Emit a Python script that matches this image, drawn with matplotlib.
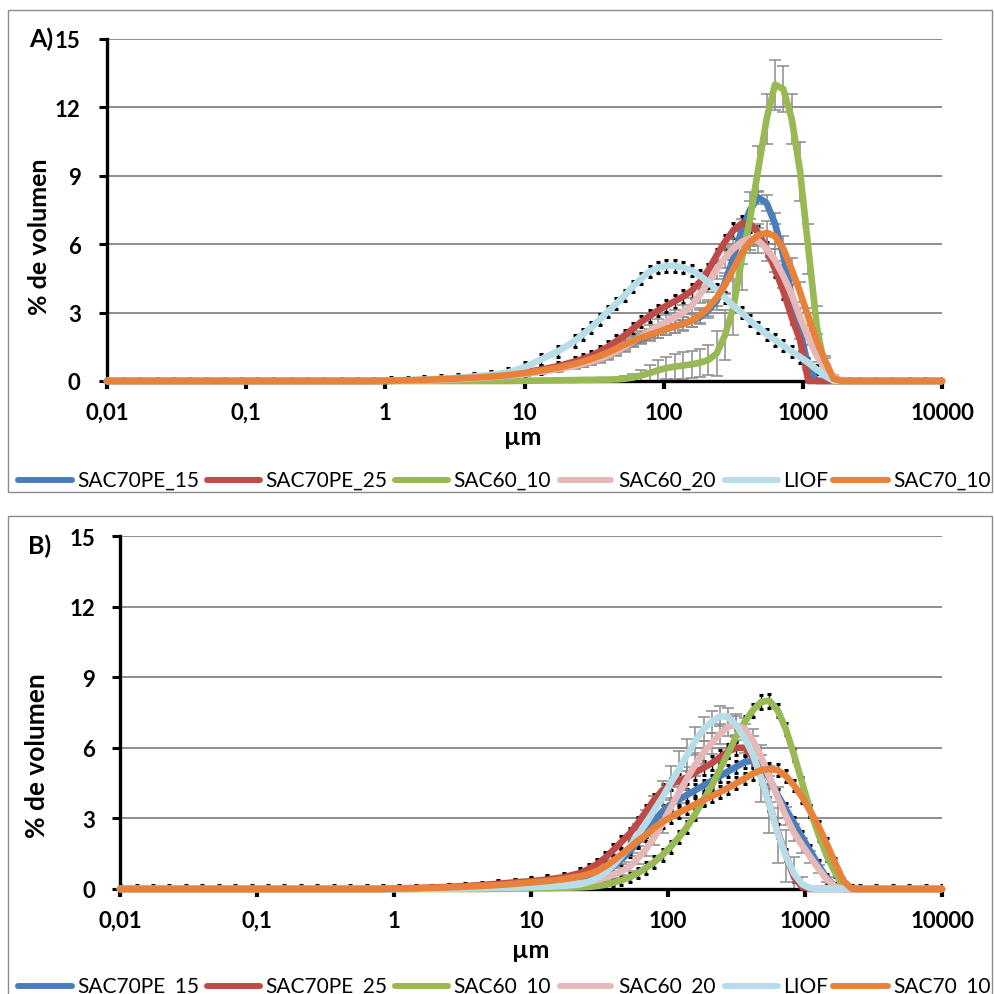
import numpy as np
import matplotlib
matplotlib.use("Agg")
import matplotlib.pyplot as plt
from matplotlib.lines import Line2D
from matplotlib.patches import Rectangle
from matplotlib.ticker import FixedLocator, FixedFormatter, NullLocator

plt.rcParams["font.family"] = ["Lato", "DejaVu Sans"]

W, H = 994, 995

# particle size classes (µm)
size_um = [0.010, 0.0132, 0.0174, 0.0229, 0.0302, 0.0398, 0.0525, 0.0692, 0.0912,
           0.120, 0.158, 0.209, 0.275, 0.363, 0.479, 0.631, 0.832,
           1.096, 1.445, 1.905, 2.512, 3.311, 4.365, 5.754, 7.586,
           10.00, 13.18, 17.38,
           22.91, 26.30, 30.20, 34.67, 39.81, 45.71, 52.48, 60.26, 69.18, 79.43,
           91.20, 104.7, 120.2, 138.0, 158.5, 182.0, 208.9, 239.9, 275.4, 316.2,
           363.1, 416.9, 478.6, 549.5, 631.0, 724.4, 831.8, 955.0, 1096, 1259,
           1445, 1660, 1905, 2188, 2512,
           3311, 4365, 5754, 7586, 10000]

x_ticks = [0.01, 0.1, 1, 10, 100, 1000, 10000]
x_tick_labels = ["0,01", "0,1", "1", "10", "100", "1000", "10000"]
y_ticks = [0, 3, 6, 9, 12, 15]

series_names = ["SAC70PE_15", "SAC70PE_25", "SAC60_10", "SAC60_20", "LIOF", "SAC70_10"]
series_colors = ["#4A7EBB", "#BE4B48", "#98B954", "#E6B9B8", "#B7DEE8", "#E8823A"]

# ---------------- panel A: % volume ----------------
a_sac70pe_15 = [0, 0, 0, 0, 0, 0, 0, 0, 0, 0, 0, 0, 0, 0, 0, 0, 0,
                0.01, 0.02, 0.04, 0.06, 0.09, 0.13, 0.18, 0.25, 0.33, 0.43, 0.54,
                0.7, 0.78, 0.88, 1.0, 1.15, 1.32, 1.5, 1.68, 1.85, 2.0,
                2.15, 2.28, 2.4, 2.52, 2.65, 2.8, 3.1, 3.5, 4.3, 5.4,
                6.6, 7.5, 8.05, 7.8, 6.9, 5.5, 3.7, 2.2, 0.6, 0,
                0, 0, 0, 0, 0,
                0, 0, 0, 0, 0]
a_sac70pe_25 = [0, 0, 0, 0, 0, 0, 0, 0, 0, 0, 0, 0, 0, 0, 0, 0, 0,
                0.01, 0.02, 0.03, 0.06, 0.09, 0.14, 0.2, 0.28, 0.38, 0.5, 0.65,
                0.85, 0.97, 1.1, 1.3, 1.5, 1.75, 2.0, 2.3, 2.6, 2.85,
                3.1, 3.3, 3.5, 3.7, 3.95, 4.35, 4.85, 5.5, 6.1, 6.6,
                6.9, 6.9, 6.5, 5.8, 4.9, 3.95, 2.8, 1.8, 0, 0,
                0, 0, 0, 0, 0,
                0, 0, 0, 0, 0]
a_sac60_10 = [0, 0, 0, 0, 0, 0, 0, 0, 0, 0, 0, 0, 0, 0, 0, 0, 0,
              0, 0, 0, 0, 0, 0, 0, 0, 0.01, 0.02, 0.03,
              0.04, 0.05, 0.05, 0.06, 0.06, 0.07, 0.1, 0.15, 0.25, 0.35,
              0.47, 0.57, 0.63, 0.68, 0.73, 0.8, 0.92, 1.2, 2.0, 3.2,
              5.3, 7.1, 9.3, 11.5, 13.0, 12.8, 11.5, 9.2, 5.8, 2.4,
              0.5, 0, 0, 0, 0,
              0, 0, 0, 0, 0]
a_sac60_20 = [0, 0, 0, 0, 0, 0, 0, 0, 0, 0, 0, 0, 0, 0, 0, 0, 0,
              0.01, 0.02, 0.03, 0.05, 0.08, 0.12, 0.17, 0.23, 0.31, 0.41, 0.52,
              0.66, 0.75, 0.85, 0.97, 1.12, 1.3, 1.5, 1.72, 1.95, 2.2,
              2.4, 2.6, 2.8, 3.0, 3.3, 3.8, 4.3, 4.9, 5.4, 5.8,
              6.1, 6.25, 6.15, 5.8, 5.3, 4.6, 3.8, 2.8, 1.9, 1.1,
              0.55, 0.2, 0, 0, 0,
              0, 0, 0, 0, 0]
a_liof = [0, 0, 0, 0, 0, 0, 0, 0, 0, 0, 0, 0, 0, 0, 0, 0, 0,
          0.02, 0.04, 0.06, 0.1, 0.14, 0.2, 0.27, 0.38, 0.6, 0.95, 1.3,
          1.75, 2.05, 2.35, 2.7, 3.05, 3.4, 3.75, 4.15, 4.5, 4.8,
          4.97, 5.05, 5.05, 4.98, 4.85, 4.62, 4.35, 4.0, 3.65, 3.3,
          3.0, 2.65, 2.35, 2.05, 1.8, 1.55, 1.3, 1.05, 0.8, 0.5,
          0.22, 0.02, 0, 0, 0,
          0, 0, 0, 0, 0]
a_sac70_10 = [0, 0, 0, 0, 0, 0, 0, 0, 0, 0, 0, 0, 0, 0, 0, 0, 0,
              0.02, 0.03, 0.05, 0.08, 0.11, 0.15, 0.19, 0.26, 0.35, 0.46, 0.58,
              0.75, 0.85, 0.97, 1.1, 1.25, 1.42, 1.6, 1.75, 1.9, 2.03,
              2.15, 2.28, 2.4, 2.5, 2.65, 2.88, 3.2, 3.65, 4.2, 4.9,
              5.6, 6.1, 6.4, 6.5, 6.35, 5.8, 4.9, 3.9, 2.8, 1.75,
              0.9, 0.1, 0, 0, 0,
              0, 0, 0, 0, 0]

# standard deviations, panel A
a_sac70pe_15_sd = [0, 0, 0, 0, 0, 0, 0, 0, 0, 0, 0, 0, 0, 0, 0, 0, 0,
                   0.01, 0.01, 0.02, 0.02, 0.03, 0.04, 0.05, 0.06, 0.08, 0.1, 0.12,
                   0.14, 0.15, 0.16, 0.17, 0.18, 0.19, 0.2, 0.21, 0.22, 0.23,
                   0.25, 0.26, 0.28, 0.29, 0.3, 0.32, 0.35, 0.4, 0.45, 0.5,
                   0.5, 0.4, 0.3, 0.35, 0.45, 0.5, 0.5, 0.35, 0.1, 0,
                   0, 0, 0, 0, 0,
                   0, 0, 0, 0, 0]
a_sac70pe_25_sd = [0, 0, 0, 0, 0, 0, 0, 0, 0, 0, 0, 0, 0, 0, 0, 0, 0,
                   0.1, 0.1, 0.1, 0.12, 0.13, 0.14, 0.15, 0.16, 0.18, 0.2, 0.2,
                   0.22, 0.22, 0.22, 0.24, 0.25, 0.25, 0.25, 0.25, 0.25, 0.25,
                   0.25, 0.26, 0.28, 0.28, 0.3, 0.3, 0.3, 0.3, 0.32, 0.33,
                   0.35, 0.35, 0.3, 0.3, 0.35, 0.35, 0.3, 0.25, 0.1, 0,
                   0, 0, 0, 0, 0,
                   0, 0, 0, 0, 0]
a_sac60_10_sd = [0, 0, 0, 0, 0, 0, 0, 0, 0, 0, 0, 0, 0, 0, 0, 0, 0,
                 0, 0, 0, 0, 0, 0, 0, 0, 0.02, 0.03, 0.04,
                 0.05, 0.05, 0.06, 0.06, 0.07, 0.08, 0.1, 0.15, 0.25, 0.35,
                 0.45, 0.5, 0.55, 0.58, 0.6, 0.62, 0.65, 1.0, 1.1, 1.2,
                 1.3, 1.2, 1.0, 1.1, 1.1, 1.0, 1.1, 1.3, 1.1, 0.9,
                 0.5, 0, 0, 0, 0,
                 0, 0, 0, 0, 0]
a_sac60_20_sd = [0, 0, 0, 0, 0, 0, 0, 0, 0, 0, 0, 0, 0, 0, 0, 0, 0,
                 0.01, 0.01, 0.02, 0.02, 0.03, 0.04, 0.05, 0.06, 0.08, 0.1, 0.12,
                 0.14, 0.15, 0.16, 0.17, 0.18, 0.2, 0.22, 0.24, 0.25, 0.27,
                 0.3, 0.3, 0.3, 0.32, 0.35, 0.38, 0.4, 0.42, 0.45, 0.48,
                 0.5, 0.52, 0.55, 0.55, 0.5, 0.5, 0.45, 0.4, 0.3, 0.25,
                 0.15, 0.05, 0, 0, 0,
                 0, 0, 0, 0, 0]
a_liof_sd = [0.15, 0.15, 0.15, 0.15, 0.15, 0.15, 0.15, 0.15, 0.15, 0.15, 0.15, 0.15,
             0.15, 0.15, 0.15, 0.15, 0.15,
             0.15, 0.15, 0.15, 0.15, 0.16, 0.17, 0.18, 0.2, 0.22, 0.24, 0.25,
             0.25, 0.25, 0.25, 0.25, 0.25, 0.25, 0.25, 0.25, 0.25, 0.25,
             0.25, 0.25, 0.25, 0.25, 0.25, 0.25, 0.25, 0.25, 0.25, 0.25,
             0.25, 0.25, 0.25, 0.25, 0.25, 0.25, 0.25, 0.25, 0.22, 0.2,
             0.18, 0.15, 0.15, 0.15, 0.15,
             0.15, 0.15, 0.15, 0.15, 0.15]
a_sac70_10_sd = [0, 0, 0, 0, 0, 0, 0, 0, 0, 0, 0, 0, 0, 0, 0, 0, 0,
                 0.01, 0.01, 0.02, 0.02, 0.03, 0.04, 0.05, 0.06, 0.08, 0.1, 0.12,
                 0.14, 0.15, 0.16, 0.17, 0.18, 0.19, 0.2, 0.21, 0.22, 0.23,
                 0.25, 0.26, 0.28, 0.29, 0.3, 0.32, 0.35, 0.38, 0.4, 0.42,
                 0.45, 0.48, 0.5, 0.5, 0.55, 0.55, 0.5, 0.45, 0.4, 0.3,
                 0.2, 0.05, 0, 0, 0,
                 0, 0, 0, 0, 0]

# ---------------- panel B: % volume ----------------
b_sac70pe_15 = [0, 0, 0, 0, 0, 0, 0, 0, 0, 0, 0, 0, 0, 0, 0, 0, 0,
                0.01, 0.02, 0.03, 0.05, 0.07, 0.1, 0.13, 0.17, 0.22, 0.27, 0.32,
                0.4, 0.47, 0.55, 0.72, 0.95, 1.25, 1.6, 2.0, 2.45, 2.9,
                3.3, 3.6, 3.8, 4.0, 4.2, 4.4, 4.6, 4.8, 5.0, 5.2,
                5.4, 5.45, 5.3, 4.7, 4.0, 3.4, 2.8, 2.2, 1.6, 1.0,
                0.45, 0.1, 0, 0, 0,
                0, 0, 0, 0, 0]
b_sac70pe_25 = [0, 0, 0, 0, 0, 0, 0, 0, 0, 0, 0, 0, 0, 0, 0, 0, 0,
                0.03, 0.04, 0.06, 0.09, 0.12, 0.17, 0.22, 0.28, 0.33, 0.4, 0.5,
                0.68, 0.85, 1.05, 1.32, 1.65, 2.0, 2.35, 2.8, 3.3, 3.8,
                4.2, 4.45, 4.6, 4.75, 4.95, 5.15, 5.35, 5.6, 5.85, 6.0,
                6.0, 5.6, 4.75, 3.6, 2.45, 1.45, 0.5, 0.08, 0, 0,
                0, 0, 0, 0, 0,
                0, 0, 0, 0, 0]
b_sac60_10 = [0, 0, 0, 0, 0, 0, 0, 0, 0, 0, 0, 0, 0, 0, 0, 0, 0,
              0, 0, 0, 0, 0, 0, 0.01, 0.02, 0.03, 0.04, 0.05,
              0.07, 0.09, 0.12, 0.18, 0.27, 0.37, 0.5, 0.68, 0.9, 1.15,
              1.45, 1.8, 2.2, 2.65, 3.2, 3.8, 4.4, 5.1, 5.8, 6.5,
              7.1, 7.6, 7.95, 8.0, 7.6, 6.8, 5.7, 4.5, 3.3, 2.3,
              1.4, 0.7, 0.05, 0, 0,
              0, 0, 0, 0, 0]
b_sac60_20 = [0, 0, 0, 0, 0, 0, 0, 0, 0, 0, 0, 0, 0, 0, 0, 0, 0,
              0, 0.01, 0.02, 0.03, 0.04, 0.05, 0.06, 0.08, 0.1, 0.13, 0.17,
              0.25, 0.3, 0.38, 0.48, 0.6, 0.75, 0.95, 1.3, 1.7, 2.2,
              2.8, 3.45, 4.1, 4.7, 5.3, 5.8, 6.2, 6.6, 6.9, 6.95,
              6.8, 6.3, 5.6, 4.75, 3.9, 3.1, 2.4, 1.85, 1.35, 0.85,
              0.4, 0.1, 0, 0, 0,
              0, 0, 0, 0, 0]
b_liof = [0, 0, 0, 0, 0, 0, 0, 0, 0, 0, 0, 0, 0, 0, 0, 0, 0,
          0, 0.01, 0.01, 0.02, 0.03, 0.04, 0.05, 0.06, 0.08, 0.1, 0.13,
          0.2, 0.3, 0.45, 0.68, 1.0, 1.4, 1.8, 2.3, 2.8, 3.35,
          3.9, 4.5, 5.1, 5.7, 6.3, 6.8, 7.1, 7.35, 7.3, 6.95,
          6.4, 5.7, 4.7, 3.6, 2.4, 1.4, 0.65, 0.2, 0.03, 0,
          0, 0, 0, 0, 0,
          0, 0, 0, 0, 0]
b_sac70_10 = [0, 0, 0, 0, 0, 0, 0, 0, 0, 0, 0, 0, 0, 0, 0, 0, 0,
              0.02, 0.03, 0.05, 0.07, 0.1, 0.13, 0.17, 0.22, 0.28, 0.34, 0.42,
              0.55, 0.63, 0.75, 0.95, 1.2, 1.47, 1.75, 2.05, 2.3, 2.6,
              2.85, 3.05, 3.25, 3.42, 3.6, 3.78, 3.95, 4.12, 4.3, 4.5,
              4.7, 4.9, 5.05, 5.1, 5.05, 4.8, 4.4, 3.9, 3.3, 2.65,
              1.9, 1.1, 0.35, 0.02, 0,
              0, 0, 0, 0, 0]

# standard deviations, panel B
b_sac70pe_15_sd = [0.15, 0.15, 0.15, 0.15, 0.15, 0.15, 0.15, 0.15, 0.15, 0.15, 0.15, 0.15,
                   0.15, 0.15, 0.15, 0.15, 0.15,
                   0.15, 0.15, 0.15, 0.15, 0.15, 0.16, 0.17, 0.18, 0.2, 0.2, 0.2,
                   0.2, 0.2, 0.22, 0.22, 0.24, 0.25, 0.25, 0.25, 0.25, 0.25,
                   0.25, 0.25, 0.25, 0.25, 0.25, 0.25, 0.25, 0.25, 0.25, 0.25,
                   0.25, 0.25, 0.25, 0.25, 0.25, 0.25, 0.25, 0.25, 0.25, 0.25,
                   0.2, 0.15, 0.15, 0.15, 0.15,
                   0.15, 0.15, 0.15, 0.15, 0.15]
b_sac70pe_25_sd = [0, 0, 0, 0, 0, 0, 0, 0, 0, 0, 0, 0, 0, 0, 0, 0, 0,
                   0.1, 0.1, 0.1, 0.12, 0.13, 0.14, 0.15, 0.16, 0.18, 0.2, 0.2,
                   0.22, 0.22, 0.22, 0.24, 0.25, 0.25, 0.25, 0.25, 0.25, 0.25,
                   0.25, 0.26, 0.28, 0.28, 0.3, 0.3, 0.3, 0.3, 0.3, 0.3,
                   0.3, 0.3, 0.3, 0.3, 0.3, 0.25, 0.2, 0.1, 0, 0,
                   0, 0, 0, 0, 0,
                   0, 0, 0, 0, 0]
b_sac60_10_sd = [0, 0, 0, 0, 0, 0, 0, 0, 0, 0, 0, 0, 0, 0, 0, 0, 0,
                 0, 0, 0, 0, 0, 0, 0.02, 0.03, 0.04, 0.05, 0.06,
                 0.07, 0.08, 0.1, 0.12, 0.15, 0.18, 0.2, 0.22, 0.25, 0.25,
                 0.25, 0.25, 0.25, 0.25, 0.25, 0.25, 0.25, 0.25, 0.25, 0.25,
                 0.25, 0.28, 0.3, 0.3, 0.28, 0.25, 0.25, 0.25, 0.25, 0.25,
                 0.22, 0.2, 0.05, 0, 0,
                 0, 0, 0, 0, 0]
b_sac60_20_sd = [0, 0, 0, 0, 0, 0, 0, 0, 0, 0, 0, 0, 0, 0, 0, 0, 0,
                 0, 0, 0, 0, 0, 0.01, 0.01, 0.02, 0.02, 0.03, 0.04,
                 0.05, 0.06, 0.08, 0.1, 0.12, 0.16, 0.2, 0.25, 0.3, 0.35,
                 0.4, 0.42, 0.45, 0.48, 0.5, 0.48, 0.45, 0.42, 0.4, 0.42,
                 0.45, 0.48, 0.5, 0.48, 0.45, 0.4, 0.35, 0.3, 0.25, 0.18,
                 0.1, 0.04, 0, 0, 0,
                 0, 0, 0, 0, 0]
b_liof_sd = [0, 0, 0, 0, 0, 0, 0, 0, 0, 0, 0, 0, 0, 0, 0, 0, 0,
             0, 0, 0, 0, 0, 0, 0.01, 0.01, 0.02, 0.02, 0.03,
             0.05, 0.07, 0.1, 0.17, 0.25, 0.32, 0.4, 0.48, 0.55, 0.62,
             0.7, 0.72, 0.75, 0.68, 0.6, 0.52, 0.45, 0.42, 0.4, 0.5,
             0.6, 0.8, 1.0, 1.2, 1.3, 1.1, 0.7, 0.3, 0.05, 0,
             0, 0, 0, 0, 0,
             0, 0, 0, 0, 0]
b_sac70_10_sd = [0, 0, 0, 0, 0, 0, 0, 0, 0, 0, 0, 0, 0, 0, 0, 0, 0,
                 0.1, 0.1, 0.1, 0.12, 0.13, 0.14, 0.15, 0.16, 0.18, 0.2, 0.2,
                 0.22, 0.22, 0.22, 0.24, 0.25, 0.25, 0.25, 0.25, 0.25, 0.25,
                 0.25, 0.25, 0.25, 0.25, 0.25, 0.25, 0.25, 0.25, 0.25, 0.25,
                 0.25, 0.25, 0.25, 0.25, 0.25, 0.25, 0.25, 0.25, 0.25, 0.25,
                 0.25, 0.2, 0.1, 0.02, 0,
                 0, 0, 0, 0, 0]

panel_a_values = [a_sac70pe_15, a_sac70pe_25, a_sac60_10, a_sac60_20, a_liof, a_sac70_10]
panel_a_sd = [a_sac70pe_15_sd, a_sac70pe_25_sd, a_sac60_10_sd, a_sac60_20_sd, a_liof_sd, a_sac70_10_sd]
panel_a_sd_black = [False, True, False, False, True, False]

panel_b_values = [b_sac70pe_15, b_sac70pe_25, b_sac60_10, b_sac60_20, b_liof, b_sac70_10]
panel_b_sd = [b_sac70pe_15_sd, b_sac70pe_25_sd, b_sac60_10_sd, b_sac60_20_sd, b_liof_sd, b_sac70_10_sd]
panel_b_sd_black = [True, True, True, False, False, True]

for group in (panel_a_values, panel_a_sd, panel_b_values, panel_b_sd):
    for i, arr in enumerate(group):
        if len(arr) != len(size_um):
            raise ValueError(f"series {i}: {len(arr)} values for {len(size_um)} sizes")


def fx(x):
    return x / W


def fy(y):
    return 1 - y / H


fig = plt.figure(figsize=(W / 100, H / 100), dpi=100)
fig.patch.set_facecolor("white")

# chart frames
for top, bottom in [(11, 493), (517, 1010)]:
    fig.add_artist(Rectangle((fx(8), fy(bottom)), fx(992) - fx(8), fy(top) - fy(bottom),
                             transform=fig.transFigure, fill=False,
                             edgecolor="#8c8c8c", lw=1.0, clip_on=False))


def draw_panel(left, right, top, bottom, values, sds, sd_black, tag, tag_xy,
               ylab_xy, ylab_size, xlab_xy, ypad, legend_y):
    ax = fig.add_axes([fx(left), fy(bottom), fx(right) - fx(left), fy(top) - fy(bottom)])
    ax.set_xscale("log")
    ax.set_xlim(0.01, 10000)
    ax.set_ylim(0, 15)
    ax.xaxis.set_major_locator(FixedLocator(x_ticks))
    ax.xaxis.set_major_formatter(FixedFormatter(x_tick_labels))
    ax.xaxis.set_minor_locator(NullLocator())
    ax.yaxis.set_major_locator(FixedLocator(y_ticks))
    for s in ("top", "right"):
        ax.spines[s].set_visible(False)
    for s in ("left", "bottom"):
        ax.spines[s].set_linewidth(2.4)
        ax.spines[s].set_color("black")
    ax.grid(axis="y", color="#7a7a7a", lw=1.2, zorder=0)
    ax.set_axisbelow(True)
    ax.tick_params(axis="y", direction="out", length=6, width=2.2, pad=ypad,
                   labelsize=16)
    ax.tick_params(axis="x", direction="out", length=6, width=3.0, pad=9,
                   labelsize=16)
    for lbl in ax.get_xticklabels() + ax.get_yticklabels():
        lbl.set_fontweight("bold")

    x = np.array(size_um)
    for vals, sd, black in zip(values, sds, sd_black):
        v = np.array(vals)
        e = np.array(sd)
        m = e > 0
        if black:
            ax.errorbar(x[m], v[m], yerr=e[m], fmt="none", ecolor="black",
                        elinewidth=1.0, capsize=1.3, capthick=2.2, zorder=2)
        else:
            ax.errorbar(x[m], v[m], yerr=e[m], fmt="none", ecolor="#8c8c8c",
                        elinewidth=1.1, capsize=4.3, capthick=1.1, zorder=2)
    for vals, col in zip(values, series_colors):
        ax.plot(x, vals, color=col, lw=4.8, solid_capstyle="round",
                solid_joinstyle="round", zorder=3, clip_on=False)

    fig.text(fx(tag_xy[0]), fy(tag_xy[1]), tag, fontsize=18, fontweight="bold",
             ha="center", va="center")
    fig.text(fx(ylab_xy[0]), fy(ylab_xy[1]), "% de volumen", fontsize=ylab_size,
             fontweight="bold", rotation=90, ha="center", va="center")
    fig.text(fx(xlab_xy[0]), fy(xlab_xy[1]), "µm", fontsize=18, fontweight="bold",
             ha="center", va="baseline")

    # legend row
    handle_x = [(18, 72), (207, 260), (395, 448), (560, 611), (725, 778), (833, 888)]
    text_x = [77, 265, 453, 618, 783, 893]
    for (h0, h1), tx, name, col in zip(handle_x, text_x, series_names, series_colors):
        fig.add_artist(Line2D([fx(h0), fx(h1)], [fy(legend_y), fy(legend_y)],
                              transform=fig.transFigure, color=col, lw=4.3,
                              solid_capstyle="round"))
        fig.text(fx(tx), fy(legend_y), name, fontsize=15, fontweight="normal",
                 ha="left", va="center")
    return ax


draw_panel(107, 942, 40, 382, panel_a_values, panel_a_sd, panel_a_sd_black,
           "A)", (41, 39), (40, 237), 18, (523, 445), 13, 481)
draw_panel(120, 942, 537, 890, panel_b_values, panel_b_sd, panel_b_sd_black,
           "B)", (40, 546), (37, 756), 19, (531, 958), 12, 987)

fig.savefig("out.png", dpi=100, facecolor="white")
